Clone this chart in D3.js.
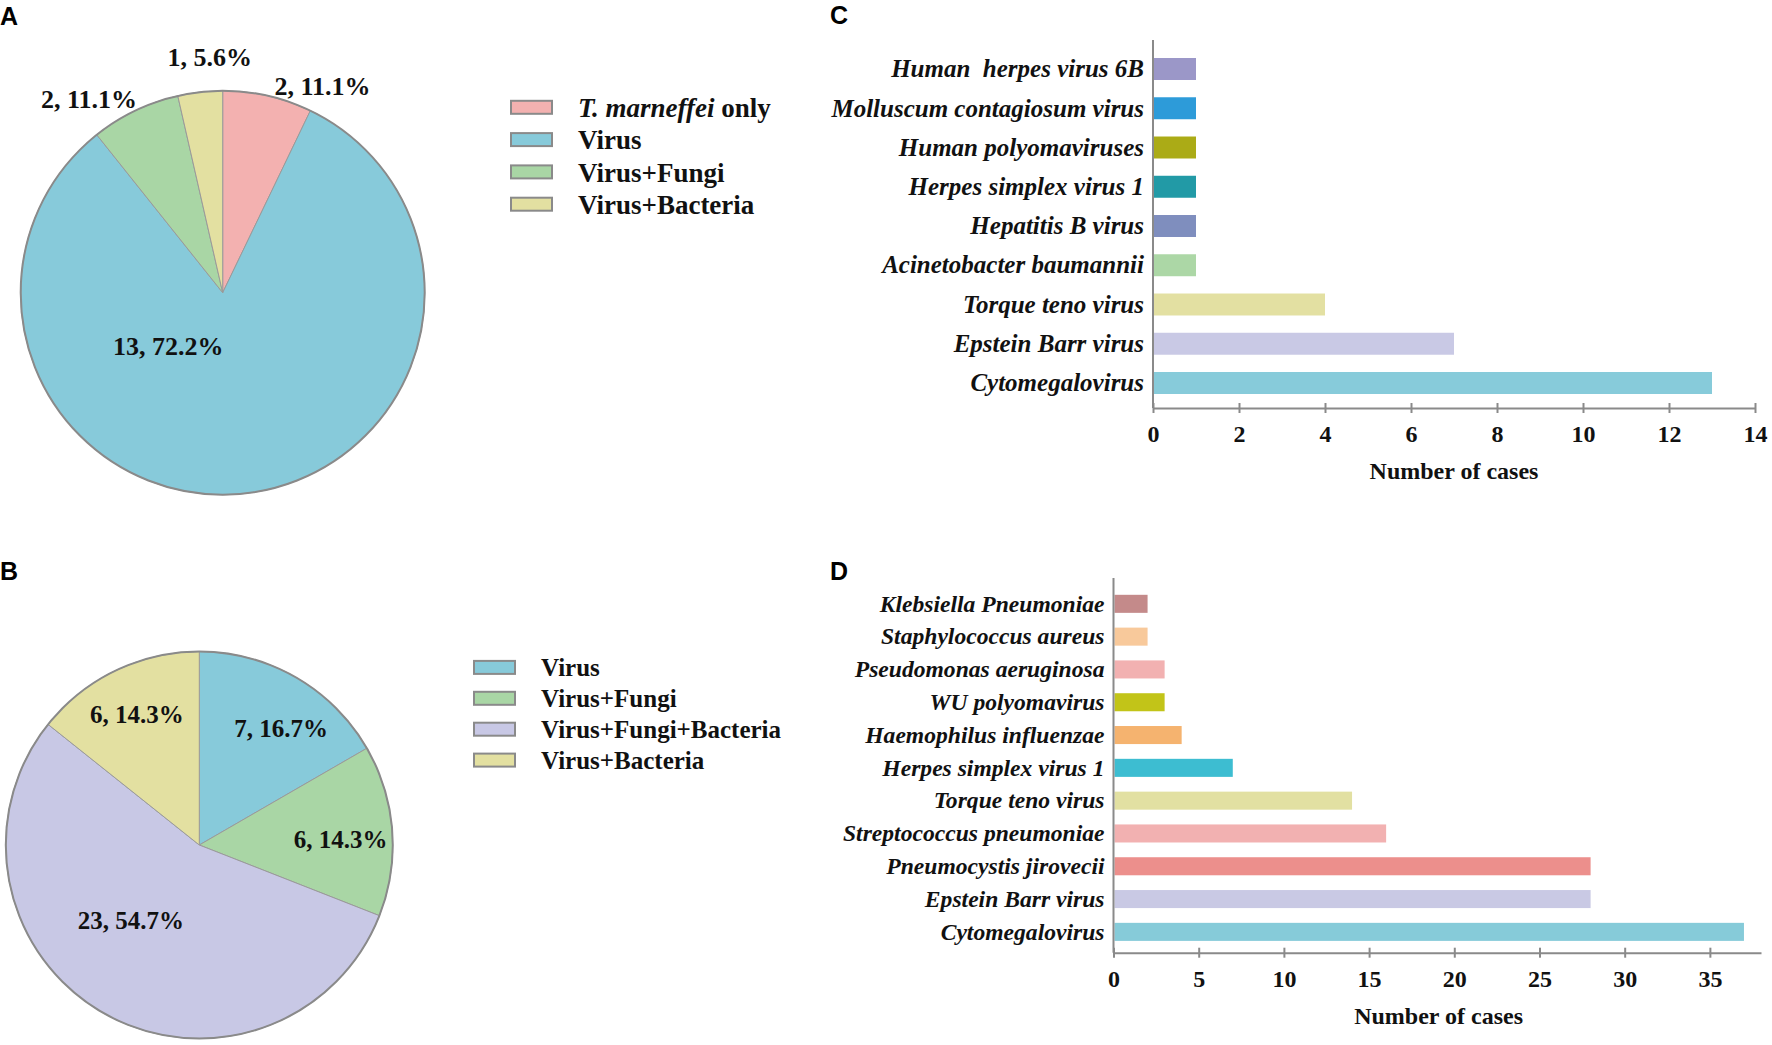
<!DOCTYPE html>
<meta charset="utf-8">
<style>
body { margin: 0; background: #fff; }
svg text { font-family: "Liberation Serif", "Times New Roman", serif; font-weight: bold; fill: #111; }
svg text.panel { font-family: "Liberation Sans", Arial, sans-serif; font-size: 25px; fill: #000; }
svg text.cat { font-style: italic; white-space: pre; }
.axis path, .axis line { stroke: #8a8a8a; stroke-width: 2px; }
</style>
<body>
<script src="https://d3js.org/d3.v7.min.js"></script>
<script>

// ---- data ----
// panel A
var pieACategories = ["T. marneffei only", "Virus", "Virus+Fungi", "Virus+Bacteria"];
var pieACounts = [2, 13, 2, 1];
var pieAPercents = ["11.1%", "72.2%", "11.1%", "5.6%"];
var pieASlices = [2, 23, 2, 1];   // slice sizes as they are drawn in the figure
var pieAColors = ["#f3b1b0", "#87cada", "#a9d6a5", "#e3e0a1"];

// panel B
var pieBCategories = ["Virus", "Virus+Fungi", "Virus+Fungi+Bacteria", "Virus+Bacteria"];
var pieBCounts = [7, 6, 23, 6];
var pieBPercents = ["16.7%", "14.3%", "54.7%", "14.3%"];
var pieBColors = ["#87cada", "#a9d6a5", "#c8c8e5", "#e3e0a1"];

// panel C
var barCCategories = ["Human  herpes virus 6B", "Molluscum contagiosum virus", "Human polyomaviruses",
  "Herpes simplex virus 1", "Hepatitis B virus", "Acinetobacter baumannii",
  "Torque teno virus", "Epstein Barr virus", "Cytomegalovirus"];
var barCValues = [1, 1, 1, 1, 1, 1, 4, 7, 13];
var barCColors = ["#9b97c8", "#2d9bd9", "#abab16", "#229aa6", "#7f8ebe", "#acd7a6", "#e3e0a2", "#c9c9e5", "#87cbda"];
var barCTicks = [0, 2, 4, 6, 8, 10, 12, 14];

// panel D
var barDCategories = ["Klebsiella Pneumoniae", "Staphylococcus aureus", "Pseudomonas aeruginosa",
  "WU polyomavirus", "Haemophilus influenzae", "Herpes simplex virus 1", "Torque teno virus",
  "Streptococcus pneumoniae", "Pneumocystis jirovecii", "Epstein Barr virus", "Cytomegalovirus"];
var barDValues = [2, 2, 3, 3, 4, 7, 14, 16, 28, 28, 37];
var barDColors = ["#c48a8a", "#f8c99b", "#f2b1b1", "#c2c418", "#f5b36f", "#3dbdd1", "#e2e0a2",
  "#f2b1b1", "#ec8f8c", "#c9c9e4", "#86cbd9"];
var barDTicks = [0, 5, 10, 15, 20, 25, 30, 35];

// label placement round each pie: [angle in degrees from 12 o'clock, fraction of radius]
var pieALabelPolar = [[26.8, 1.097], [221, 0.41], [324.1, 1.129], [356.7, 1.124]];
var pieBLabelPolar = [[37.1, 0.70], [91.3, 0.73], [219.1, 0.56], [333, 0.71]];

// ---- drawing ----
var svg = d3.select("body").append("svg")
    .attr("width", 1772)
    .attr("height", 1045);

function drawPie(opt) {
  var g = svg.append("g").attr("transform", "translate(" + opt.cx + "," + opt.cy + ")");
  var pie = d3.pie().sort(null).value(function(d) { return d; });
  var arc = d3.arc().innerRadius(0).outerRadius(opt.r);
  var arcs = pie(opt.slices);

  g.selectAll("path.slice")
      .data(arcs)
    .enter().append("path")
      .attr("class", "slice")
      .attr("d", arc)
      .style("fill", function(d, i) { return opt.colors[i]; })
      .style("stroke", "#9a9a9a")
      .style("stroke-width", 1);

  g.append("circle")
      .attr("r", opt.r)
      .style("fill", "none")
      .style("stroke", "#8a8a8a")
      .style("stroke-width", 2);

  g.selectAll("text.lab")
      .data(opt.polar)
    .enter().append("text")
      .attr("class", "lab")
      .attr("x", function(p) { return Math.sin(p[0] * Math.PI / 180) * p[1] * opt.r; })
      .attr("y", function(p) { return -Math.cos(p[0] * Math.PI / 180) * p[1] * opt.r; })
      .attr("text-anchor", "middle")
      .style("font-size", opt.fontSize + "px")
      .text(function(p, i) { return opt.counts[i] + ", " + opt.percents[i]; });
}

function drawLegend(x, y, step, cats, colors, fontSize) {
  var g = svg.append("g").attr("transform", "translate(" + x + "," + y + ")");
  var item = g.selectAll("g.item")
      .data(cats)
    .enter().append("g")
      .attr("class", "item")
      .attr("transform", function(d, i) { return "translate(0," + (i * step) + ")"; });

  item.append("rect")
      .attr("x", 0).attr("y", -6.5)
      .attr("width", 41).attr("height", 13)
      .style("fill", function(d, i) { return colors[i]; })
      .style("stroke", "#8a8a8a")
      .style("stroke-width", 2);

  var t = item.append("text")
      .attr("x", 67).attr("dy", "0.36em")
      .style("font-size", fontSize + "px");
  t.each(function(d) {
    var el = d3.select(this);
    if (d.indexOf("T. marneffei") === 0) {
      el.append("tspan").style("font-style", "italic").text("T. marneffei");
      el.append("tspan").text(d.slice("T. marneffei".length));
    } else {
      el.text(d);
    }
  });
}

function drawBars(opt) {
  var x = d3.scaleLinear().domain(opt.domain).range([opt.x0, opt.x1]);
  var y = d3.scaleBand().domain(opt.cats).range([opt.y0, opt.y1])
      .paddingInner(opt.padIn).paddingOuter(opt.padOut);

  svg.selectAll(null)
      .data(opt.values)
    .enter().append("rect")
      .attr("x", x(0) + 1)
      .attr("y", function(d, i) { return y(opt.cats[i]); })
      .attr("width", function(d) { return x(d) - x(0) - 1; })
      .attr("height", y.bandwidth())
      .style("fill", function(d, i) { return opt.colors[i]; });

  // y axis with category names
  var ya = svg.append("g")
      .attr("class", "axis")
      .attr("transform", "translate(" + x(0) + ",0)")
      .call(d3.axisLeft(y).tickSize(0).tickSizeOuter(0).tickPadding(9));
  ya.select(".domain").attr("d", "M0," + opt.axisTop + "V" + opt.y1);
  ya.selectAll(".tick text")
      .attr("class", "cat")
      .attr("dy", "0.33em")
      .style("font-size", opt.catSize + "px");

  // x axis, ticks straddle the line
  var xa = svg.append("g")
      .attr("class", "axis")
      .attr("transform", "translate(0," + opt.y1 + ")")
      .call(d3.axisBottom(x).tickValues(opt.ticks).tickSize(0).tickSizeOuter(0).tickPadding(17));
  xa.selectAll(".tick line").attr("y1", -5).attr("y2", 5);
  xa.selectAll(".tick text").style("font-size", "24px");

  svg.append("text")
      .attr("x", opt.titleX)
      .attr("y", opt.y1 + 71)
      .attr("text-anchor", "middle")
      .style("font-size", "24px")
      .text("Number of cases");
}

drawPie({cx: 222.7, cy: 292.7, r: 202, slices: pieASlices, colors: pieAColors,
  counts: pieACounts, percents: pieAPercents, polar: pieALabelPolar, fontSize: 26});
drawLegend(511, 107.3, 32.3, pieACategories, pieAColors, 27);

drawPie({cx: 199.3, cy: 845, r: 193.5, slices: pieBCounts, colors: pieBColors,
  counts: pieBCounts, percents: pieBPercents, polar: pieBLabelPolar, fontSize: 25});
drawLegend(474, 667.4, 30.9, pieBCategories, pieBColors, 25);

drawBars({cats: barCCategories, values: barCValues, colors: barCColors, ticks: barCTicks,
  domain: [0, 14], x0: 1153, x1: 1755, y0: 44, y1: 408, axisTop: 40,
  padIn: 0.44, padOut: 0.357, catSize: 25, titleX: 1454});

drawBars({cats: barDCategories, values: barDValues, colors: barDColors, ticks: barDTicks,
  domain: [0, 38], x0: 1113.5, x1: 1761, y0: 583, y1: 952.7, axisTop: 578,
  padIn: 0.45, padOut: 0.36, catSize: 23.6, titleX: 1438.6});

// panel letters
var panels = [["A", 0, 25], ["C", 830, 24], ["B", 0, 580], ["D", 830, 580]];
svg.selectAll("text.panel")
    .data(panels)
  .enter().append("text")
    .attr("class", "panel")
    .attr("x", function(d) { return d[1]; })
    .attr("y", function(d) { return d[2]; })
    .text(function(d) { return d[0]; });

</script>
</body>
